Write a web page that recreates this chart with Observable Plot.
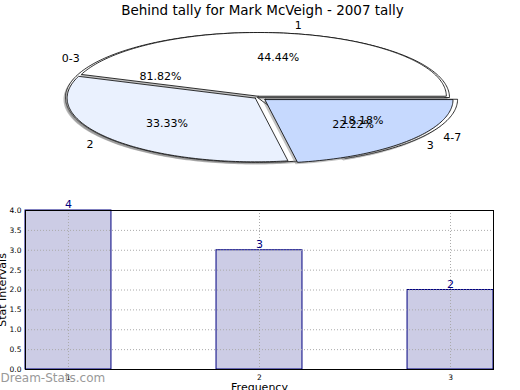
<!DOCTYPE html>
<html>
<head>
<meta charset="utf-8">
<script src="https://cdn.jsdelivr.net/npm/d3@7"></script>
<script src="https://cdn.jsdelivr.net/npm/@observablehq/plot@0.6"></script>
<style>
  body { margin: 0; background: #fff; }
  #chart { width: 520px; height: 390px; overflow: hidden; }
  #chart svg { display: block; font-family: "DejaVu Sans", sans-serif; }
</style>
</head>
<body>
<div id="chart"></div>
<script>
// ---- data ----
const title = "Behind tally for Mark McVeigh - 2007 tally";
const innerLabels = ["1", "2", "3"];
const innerValues = [4, 3, 2];
const innerColors = ["#ffffff", "#eaf1fe", "#c6d9fe"];
const innerExplode = [0.02, 0.015, 0.05];
const outerLabels = ["0-3", "4-7"];
const outerValues = [9, 2];
const outerExplode = [0, 0.05];
const frequencies = [1, 2, 3];
const intervals = [4, 3, 2];
const yTicks = [0, 0.5, 1, 1.5, 2, 2.5, 3, 3.5, 4];
const xLabel = "Frequency";
const yLabel = "Stat Intervals";
const watermark = "Dream-Stats.com";

// ---- pie geometry ----
const W = 520, H1 = 195, H2 = 195;
const cx = 257, cy = 97, rx = 192, ry = 65;

function pieSlices(values, labels, explode, group, radius) {
  const total = d3.sum(values);
  let acc = 0;
  const rows = [], labs = [];
  values.forEach((v, i) => {
    const a0 = acc / total * 2 * Math.PI;
    acc += v;
    const a1 = acc / total * 2 * Math.PI;
    const mid = (a0 + a1) / 2;
    const ox = Math.cos(mid) * explode[i], oy = Math.sin(mid) * explode[i];
    const key = group + i;
    rows.push({key, i, x: ox, y: oy});
    const n = Math.max(4, Math.ceil((a1 - a0) / 0.02));
    for (let k = 0; k <= n; k++) {
      const a = a0 + (a1 - a0) * k / n;
      rows.push({key, i, x: ox + radius * Math.cos(a), y: oy + radius * Math.sin(a)});
    }
    rows.push({key, i, x: ox, y: oy});
    labs.push({
      label: labels[i],
      pct: (v / total * 100).toFixed(2) + "%",
      lx: ox + 1.1 * Math.cos(mid), ly: oy + 1.1 * Math.sin(mid),
      px: ox + 0.6 * Math.cos(mid), py: oy + 0.6 * Math.sin(mid),
      left: Math.cos(mid) < 0
    });
  });
  return {rows, labs};
}

const outer = pieSlices(outerValues, outerLabels, outerExplode, "o", 1);
const inner = pieSlices(innerValues, innerLabels, innerExplode, "i", 0.98);
const sdx = -2 / rx, sdy = -2 / ry;
const shadow = rows => rows.map(d => ({...d, x: d.x + sdx, y: d.y + sdy}));
const allLabs = outer.labs.concat(inner.labs);

const piePlot = Plot.plot({
  width: W, height: H1, margin: 0,
  x: {domain: [-cx / rx, (W - cx) / rx], range: [0, W], axis: null},
  y: {domain: [-(H1 - cy) / ry, cy / ry], range: [H1, 0], axis: null},
  marks: [
    Plot.line(shadow(outer.rows), {x: "x", y: "y", z: "key", fill: "#777", fillOpacity: 0.5, stroke: "none"}),
    Plot.line(outer.rows, {x: "x", y: "y", z: "key", fill: "#ffffff", stroke: "#000", strokeWidth: 0.8}),
    Plot.line(shadow(inner.rows), {x: "x", y: "y", z: "key", fill: "#777", fillOpacity: 0.45, stroke: "none"}),
    Plot.line(inner.rows, {x: "x", y: "y", z: "key", fill: d => innerColors[d.i], stroke: "#000", strokeWidth: 0.8}),
    Plot.text(allLabs.filter(d => d.left), {x: "lx", y: "ly", text: "label", textAnchor: "end", fontSize: 11, fill: "#000"}),
    Plot.text(allLabs.filter(d => !d.left), {x: "lx", y: "ly", text: "label", textAnchor: "start", fontSize: 11, fill: "#000"}),
    Plot.text(allLabs, {x: "px", y: "py", text: "pct", fontSize: 11, fill: "#000"}),
    Plot.text([title], {frameAnchor: "top", dx: 2, dy: 5, text: d => d, fontSize: 13.5, lineAnchor: "top", fill: "#000"})
  ]
});

// ---- bar chart ----
const bars = frequencies.map((f, i) => ({f, v: intervals[i]}));
const barPlot = Plot.plot({
  width: W, height: H2,
  marginLeft: 25, marginRight: 27, marginTop: 15, marginBottom: 21,
  x: {domain: [0.775, 3.225]},
  y: {domain: [0, 4]},
  marks: [
    Plot.rect(bars, {x1: d => d.f - 0.225, x2: d => d.f + 0.225, y1: 0, y2: "v", fill: "#ccccE5", stroke: "#000080", strokeWidth: 1}),
    Plot.gridY(yTicks, {stroke: "#aaa", strokeOpacity: 1, strokeDasharray: "1,2"}),
    Plot.gridX(frequencies, {stroke: "#aaa", strokeOpacity: 1, strokeDasharray: "1,2"}),
    Plot.axisY(yTicks, {tickSize: 0, tickPadding: 4, fontSize: 7.5, tickFormat: d3.format(".1f"), label: null, fill: "#000"}),
    Plot.axisX(frequencies, {tickSize: 0, tickPadding: 5, fontSize: 7.5, tickFormat: d3.format("d"), label: null, fill: "#000"}),
    Plot.text(bars, {x: "f", y: "v", text: d => String(d.v), dy: -6, fontSize: 11, fill: "#000080"}),
    Plot.frame({stroke: "#000"}),
    Plot.text([yLabel], {frameAnchor: "left", dx: -23, rotate: -90, textAnchor: "middle", text: d => d, fontSize: 11, fill: "#000"}),
    Plot.text([xLabel], {frameAnchor: "bottom", dy: 14, lineAnchor: "top", textAnchor: "middle", text: d => d, fontSize: 11, fill: "#000"}),
    Plot.text([watermark], {frameAnchor: "bottom-left", dx: -25, dy: 12, textAnchor: "start", text: d => d, fontSize: 12, fill: "#999"})
  ]
});

const chart = document.getElementById("chart");
chart.appendChild(piePlot);
chart.appendChild(barPlot);
</script>
</body>
</html>
